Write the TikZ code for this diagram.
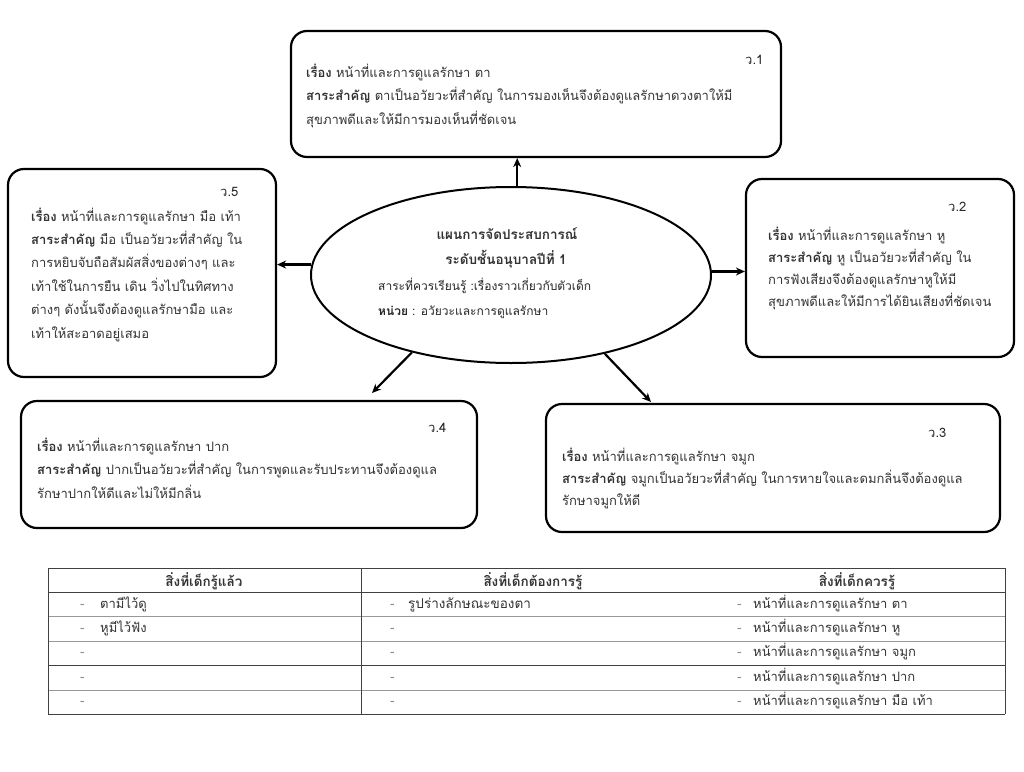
\documentclass[tikz,border=0pt]{standalone}
\usepackage{fontspec}
\newfontfamily\thaifont[Script=Thai]{Loma}
\usetikzlibrary{arrows.meta,shapes.geometric}
\newcommand\myfs{\fontsize{13.5}{16}\selectfont}
\newcommand\boxfs{\fontsize{13}{16}\selectfont}
\newcommand\ellfs{\fontsize{12}{15}\selectfont}
\begin{document}
\begin{tikzpicture}[x=1pt,y=-1pt,
  box/.style={draw, line width=2.2pt, rounded corners=16pt, rectangle, inner sep=0},
  ell/.style={draw, line width=2pt, ellipse, inner sep=0},
  txt/.style={anchor=base west, inner sep=0, font=\thaifont\myfs, text=black!80},
  btxt/.style={anchor=base west, inner sep=0, font=\thaifont\boxfs, text=black!80},
  etxt/.style={anchor=base west, inner sep=0, font=\thaifont\ellfs, text=black!85},
  ctxt/.style={anchor=base, inner sep=0, font=\thaifont\myfs, text=black!80},
  lbl/.style={anchor=base west, inner sep=0, font=\thaifont\boxfs, text=black!85},
  dashtxt/.style={anchor=base west, inner sep=0, font=\thaifont\myfs, text=black!45},
  arr/.style={-{Stealth[length=9pt,width=8pt]}, line width=2.2pt},
  tdark/.style={line width=0.9pt, draw=black!75},
  tgray/.style={line width=0.9pt, draw=black!40}]
\useasboundingbox (0,0) rectangle (1024,771);
\fill[white] (0,0) rectangle (1024,771);

% boxes
\node[box, minimum width=490, minimum height=126] (b1) at (536,94) {};
\node[box, minimum width=268, minimum height=208] (b5) at (142,273) {};
\node[box, minimum width=268, minimum height=178] (b2) at (880,268) {};
\node[box, minimum width=456, minimum height=127] (b4) at (249,464.5) {};
\node[box, minimum width=454, minimum height=128] (b3) at (773,468) {};
\node[ell, minimum width=400, minimum height=176] (ell) at (511,275) {};

% arrows
\draw[arr] (ell.86) -- (ell.86 |- b1.south);
\draw[arr] (ell.177) -- (ell.177 -| b5.east);
\draw[arr] (ell.1) -- (ell.1 -| b2.west);
\coordinate (e4) at (372,393);
\draw[arr] (ell.218) -- (e4);
\coordinate (e3) at (651,402);
\draw[arr] (ell.320) -- (e3);

% ellipse text
\node[ctxt, font=\thaifont\bfseries\myfs] (m1) at (507,239) {แผนการจัดประสบการณ์};
\node[ctxt, font=\thaifont\bfseries\myfs] (m2) at (506,264) {ระดับชั้นอนุบาลปีที่ 1};
\node[etxt] (m3) at (378,290) {สาระที่ควรเรียนรู้ :เรื่องราวเกี่ยวกับตัวเด็ก};
\node[etxt] (m4) at (378,315) {{\bfseries หน่วย} : อวัยวะและการดูแลรักษา};

% box 1
\node[lbl] (v1) at (745,64) {ว.1};
\foreach \t [count=\i] in {{{\bfseries เรื่อง} หน้าที่และการดูแลรักษา ตา},
  {{\bfseries สาระสำคัญ} ตาเป็นอวัยวะที่สำคัญ ในการมองเห็นจึงต้องดูแลรักษาดวงตาให้มี},
  {สุขภาพดีและให้มีการมองเห็นที่ชัดเจน}}
  \node[btxt] (t1\i) at (306,77+23.5*\i-23.5) {\t};

% box 5
\node[lbl] (v5) at (220,196) {ว.5};
\foreach \t [count=\i] in {{{\bfseries เรื่อง} หน้าที่และการดูแลรักษา มือ เท้า},
  {{\bfseries สาระสำคัญ} มือ เป็นอวัยวะที่สำคัญ ใน},
  {การหยิบจับถือสัมผัสสิ่งของต่างๆ และ},
  {เท้าใช้ในการยืน เดิน วิ่งไปในทิศทาง},
  {ต่างๆ ดังนั้นจึงต้องดูแลรักษามือ และ},
  {เท้าให้สะอาดอยู่เสมอ}}
  \node[btxt] (t5\i) at (31,221+23.4*\i-23.4) {\t};

% box 2
\node[lbl] (v2) at (948,211) {ว.2};
\foreach \t [count=\i] in {{{\bfseries เรื่อง} หน้าที่และการดูแลรักษา หู},
  {{\bfseries สาระสำคัญ} หู เป็นอวัยวะที่สำคัญ ใน},
  {การฟังเสียงจึงต้องดูแลรักษาหูให้มี},
  {สุขภาพดีและให้มีการได้ยินเสียงที่ชัดเจน}}
  \node[btxt] (t2\i) at (768,240+22*\i-22) {\t};

% box 4
\node[lbl] (v4) at (428,432) {ว.4};
\foreach \t [count=\i] in {{{\bfseries เรื่อง} หน้าที่และการดูแลรักษา ปาก},
  {{\bfseries สาระสำคัญ} ปากเป็นอวัยวะที่สำคัญ ในการพูดและรับประทานจึงต้องดูแล},
  {รักษาปากให้ดีและไม่ให้มีกลิ่น}}
  \node[btxt] (t4\i) at (37,451+23.5*\i-23.5) {\t};

% box 3
\node[lbl] (v3) at (928,437) {ว.3};
\foreach \t [count=\i] in {{{\bfseries เรื่อง} หน้าที่และการดูแลรักษา จมูก},
  {{\bfseries สาระสำคัญ} จมูกเป็นอวัยวะที่สำคัญ ในการหายใจและดมกลิ่นจึงต้องดูแล},
  {รักษาจมูกให้ดี}}
  \node[btxt] (t3\i) at (562,461+22*\i-22) {\t};

% table
\draw[tdark] (48,568) -- (1005,568);
\draw[tdark] (48,592) -- (1005,592);
\draw[tgray] (48,616) -- (1005,616);
\draw[tgray] (48,641) -- (1005,641);
\draw[tdark] (48,665) -- (1005,665);
\draw[tgray] (48,690) -- (1005,690);
\draw[tdark] (48,714) -- (1005,714);
\draw[tdark] (48,568) -- (48,714);
\draw[tdark] (361,568) -- (361,714);
\draw[tdark] (1005,568) -- (1005,714);

\node[ctxt, font=\thaifont\bfseries\myfs] (h1) at (204,586) {สิ่งที่เด็กรู้แล้ว};
\node[ctxt, font=\thaifont\bfseries\myfs] (h2) at (533,586) {สิ่งที่เด็กต้องการรู้};
\node[ctxt, font=\thaifont\bfseries\myfs] (h3) at (857,586) {สิ่งที่เด็กควรรู้};

\foreach \i in {1,...,5} {
  \node[dashtxt] (da\i) at (80,608+24.4*\i-24.4) {-};
  \node[dashtxt] (db\i) at (390,608+24.4*\i-24.4) {-};
  \node[dashtxt] (dc\i) at (737,608+24.4*\i-24.4) {-};
}
\node[btxt] (ca1) at (100,608) {ตามีไว้ดู};
\node[btxt] (ca2) at (100,632.4) {หูมีไว้ฟัง};
\node[txt] (cb1) at (408,608) {รูปร่างลักษณะของตา};
\foreach \t [count=\i] in {ตา, หู, จมูก, ปาก, {มือ เท้า}}
  \node[btxt] (cc\i) at (753,608+24.4*\i-24.4) {หน้าที่และการดูแลรักษา \t};
\end{tikzpicture}
\end{document}
